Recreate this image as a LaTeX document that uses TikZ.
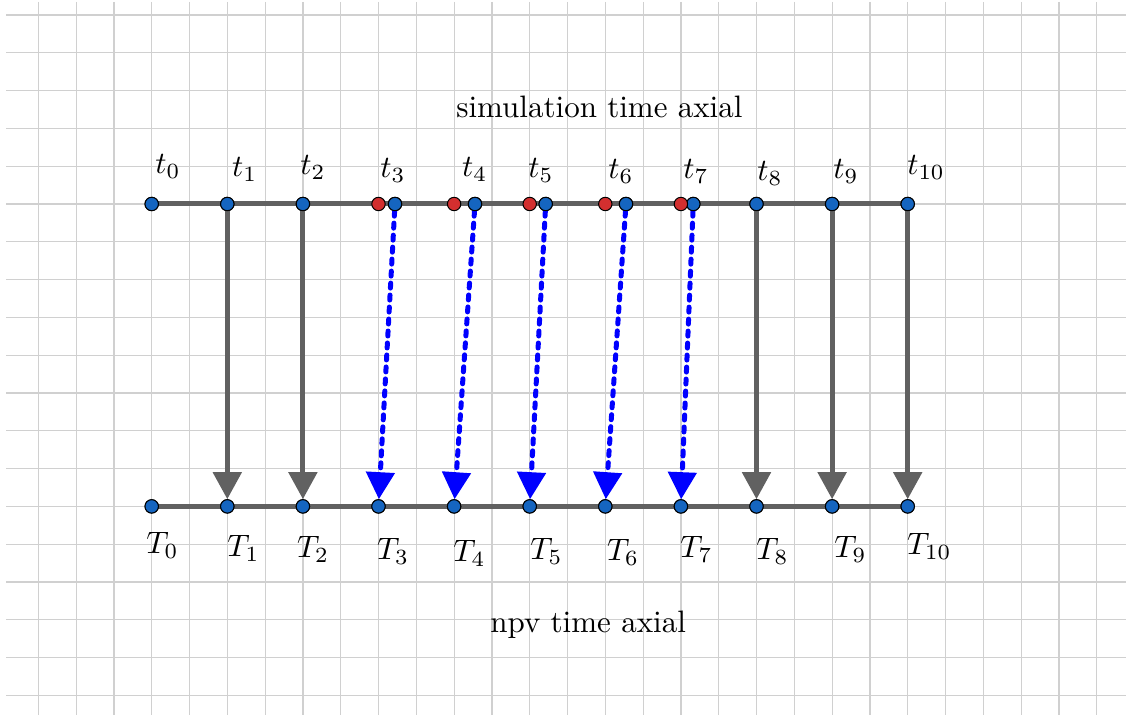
\RequirePackage{fix-cm}
\documentclass[tikz,border=0pt]{standalone}
\usetikzlibrary{arrows.meta}
\definecolor{ptblue}{RGB}{21,101,192}
\definecolor{ptred}{RGB}{211,47,47}
\definecolor{axgray}{RGB}{97,97,97}
\definecolor{gridc}{RGB}{208,208,208}
\begin{document}
\begin{tikzpicture}[x=0.5pt,y=-0.5pt,
  gridline/.style={gridc,line width=0.6pt},
  axisline/.style={axgray,line width=2.5pt},
  pt/.style={circle,draw=black,line width=0.5pt,inner sep=0pt,minimum size=6.7pt},
  bpt/.style={pt,fill=ptblue},
  rpt/.style={pt,fill=ptred},
  garrow/.style={axgray,line width=2.5pt,-{Triangle[length=13.5pt,width=14pt]}},
  barrow/.style={blue,line width=2.5pt,line cap=round,dash pattern=on 2.5pt off 3.5pt,-{Triangle[length=13.5pt,width=14pt]}},
  lab/.style={anchor=base west,inner sep=0pt}]
\useasboundingbox (0,0) rectangle (1126,715);
% grid
\foreach \k in {0,...,28} \draw[gridline] ({38.3+37.8*\k},2) -- ({38.3+37.8*\k},715);
\foreach \k in {0,...,18} \draw[gridline] (6,{15+37.8*\k}) -- (1126,{15+37.8*\k});
% points (positions)
\foreach \i/\x in {0/151.7,1/227.3,2/302.9,3/378.5,4/454.1,5/529.7,6/605.3,7/680.9,8/756.5,9/832.1,10/907.7}
  \coordinate (T\i c) at (\x,506.4);
\foreach \i/\x in {0/151.7,1/227.3,2/302.9,3/395,4/475,5/545.7,6/626,7/693.3,8/756.5,9/832.1,10/907.7}
  \coordinate (t\i c) at (\x,204);
% axes
\draw[axisline] (t0c) -- (t10c);
\draw[axisline] (T0c) -- (T10c);
% point nodes
\foreach \i in {0,...,10} {
  \node[bpt] (t\i) at (t\i c) {};
  \node[bpt] (T\i) at (T\i c) {};
}
% arrows
\foreach \i in {1,2,8,9,10} \draw[garrow] (t\i) -- (T\i);
\foreach \i in {3,...,7} \draw[barrow] (t\i) -- (T\i);
% redraw points on top
\foreach \i in {0,...,10} {
  \node[bpt] at (t\i c) {};
  \node[bpt] at (T\i c) {};
}
\foreach \i/\x in {3/378.5,4/454.1,5/529.7,6/605.3,7/680.9}
  \node[rpt] (r\i) at (\x,204) {};
% labels
\node[lab] (lt0) at (155,174) {\scalebox{1.55}{$t_0$}};
\node[lab] (lt1) at (231.7,177) {\scalebox{1.55}{$t_1$}};
\node[lab] (lt2) at (300,175) {\scalebox{1.55}{$t_2$}};
\node[lab] (lt3) at (380,178) {\scalebox{1.55}{$t_3$}};
\node[lab] (lt4) at (461.7,177) {\scalebox{1.55}{$t_4$}};
\node[lab] (lt5) at (528,178) {\scalebox{1.55}{$t_5$}};
\node[lab] (lt6) at (608,179) {\scalebox{1.55}{$t_6$}};
\node[lab] (lt7) at (683,179) {\scalebox{1.55}{$t_7$}};
\node[lab] (lt8) at (757,181) {\scalebox{1.55}{$t_8$}};
\node[lab] (lt9) at (833,179) {\scalebox{1.55}{$t_9$}};
\node[lab] (lt10) at (907,175) {\scalebox{1.55}{$t_{10}$}};
\node[lab] (lT0) at (146,554) {\scalebox{1.55}{$T_0$}};
\node[lab] (lT1) at (227,557) {\scalebox{1.55}{$T_1$}};
\node[lab] (lT2) at (296.7,558) {\scalebox{1.55}{$T_2$}};
\node[lab] (lT3) at (376.7,560) {\scalebox{1.55}{$T_3$}};
\node[lab] (lT4) at (453,561.7) {\scalebox{1.55}{$T_4$}};
\node[lab] (lT5) at (530,560) {\scalebox{1.55}{$T_5$}};
\node[lab] (lT6) at (606.7,561) {\scalebox{1.55}{$T_6$}};
\node[lab] (lT7) at (680,558) {\scalebox{1.55}{$T_7$}};
\node[lab] (lT8) at (756,560) {\scalebox{1.55}{$T_8$}};
\node[lab] (lT9) at (834,558) {\scalebox{1.55}{$T_9$}};
\node[lab] (lT10) at (906.7,555) {\scalebox{1.55}{$T_{10}$}};
\node[lab] (sim) at (456,118) {\scalebox{1.55}{simulation time axial}};
\node[lab] (npv) at (490,633) {\scalebox{1.55}{npv time axial}};
\end{tikzpicture}
\end{document}
